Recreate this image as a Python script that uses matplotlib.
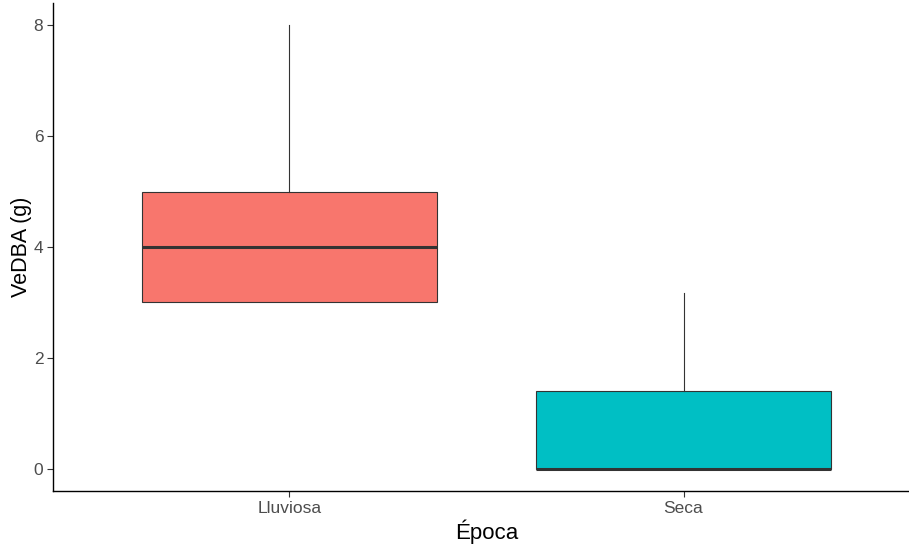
import matplotlib
matplotlib.use("Agg")
import matplotlib.pyplot as plt

categories = ["Lluviosa", "Seca"]
q1 = [3.0, 0.0]
median = [4.0, 0.0]
q3 = [5.0, 1.4]
whislo = [3.0, 0.0]
whishi = [8.0, 3.17]
colors = ["#F8766D", "#00BFC4"]
yticks = [0, 2, 4, 6, 8]

plt.rcParams['font.family'] = ['Liberation Sans', 'DejaVu Sans']

fig = plt.figure(figsize=(9.09, 5.5), dpi=100)
ax = fig.add_axes([53/909, 59/550, (920-53)/909, (491-3)/550])

stats = []
for i, c in enumerate(categories):
    stats.append(dict(label=c, q1=q1[i], med=median[i], q3=q3[i],
                      whislo=whislo[i], whishi=whishi[i], fliers=[]))

bp = ax.bxp(stats, positions=[1, 2], widths=0.75, patch_artist=True,
            showcaps=False, showfliers=False,
            boxprops=dict(edgecolor="#333333", linewidth=0.8),
            whiskerprops=dict(color="#333333", linewidth=0.8),
            medianprops=dict(color="#333333", linewidth=2.2, solid_capstyle="butt"))
for patch, col in zip(bp["boxes"], colors):
    patch.set_facecolor(col)

ax.set_xlim(0.4, 2.6)
ax.set_ylim(-0.4, 8.4)
ax.set_yticks(yticks)
ax.set_yticklabels([str(t) for t in yticks])
ax.set_xticks([1, 2])
ax.set_xticklabels(categories)

for s in ["top", "right"]:
    ax.spines[s].set_visible(False)
for s in ["left", "bottom"]:
    ax.spines[s].set_color("black")
    ax.spines[s].set_linewidth(1.0)

ax.tick_params(axis="both", colors="#333333", length=4, width=0.8,
               labelsize=12.5, labelcolor="#4D4D4D", pad=3)
ax.set_xlabel("Época", fontsize=16, color="black", labelpad=3)
ax.set_ylabel("VeDBA (g)", fontsize=15.5, color="black", labelpad=1)

fig.savefig("out.png", dpi=100)
